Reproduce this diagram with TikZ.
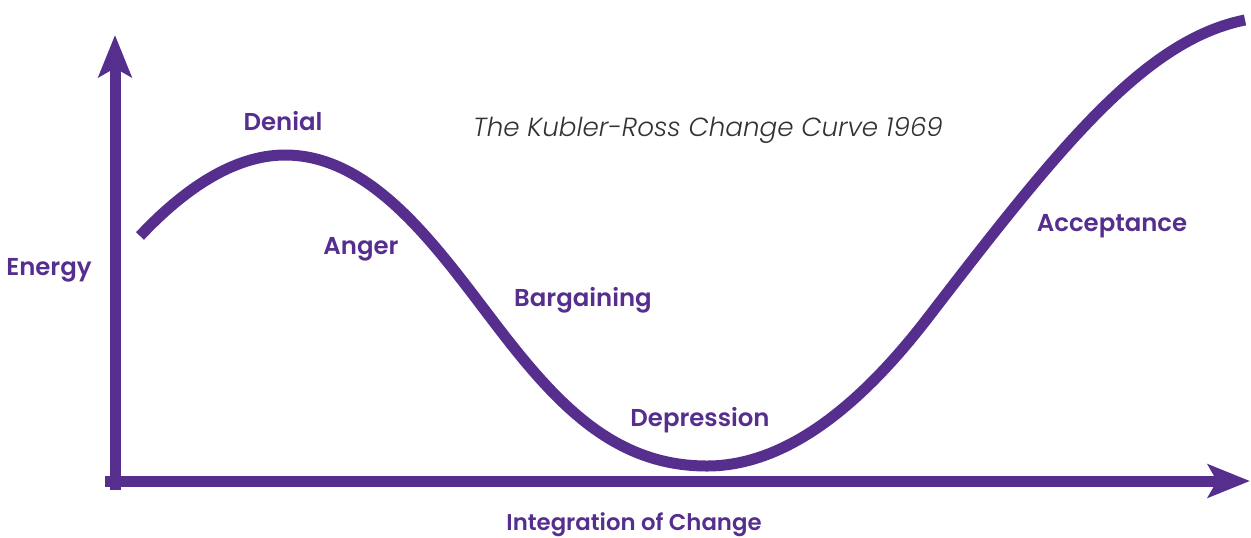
\documentclass[tikz,border=0pt]{standalone}
\usepackage{fontspec}
\setmainfont{Poppins}[BoldFont=* SemiBold, ItalicFont=* Light Italic]
\usetikzlibrary{arrows.meta}
\definecolor{kpurple}{RGB}{86,47,142}
\definecolor{kgrey}{RGB}{50,50,50}

\begin{document}
\begin{tikzpicture}[x=0.5pt, y=-0.5pt,
        stage/.style={text=kpurple, font=\bfseries\fontsize{12.2}{15}\selectfont, inner sep=0pt, anchor=base},
        axis/.style={draw=kpurple, line width=5.5pt, -{Stealth[length=21pt, width=16.5pt, inset=4.5pt]}},
        curve/.style={draw=kpurple, line width=5.5pt}]
    \useasboundingbox (0,0) rectangle (1251,537);

    % axes
    \coordinate (ybot) at (115,490);
    \coordinate (ytop) at (115,35);
    \coordinate (xleft) at (105,481);
    \coordinate (xright) at (1250,481);

    \draw[axis] (ybot) -- (ytop);
    \draw[axis] (xleft) -- (xright);

    % the curve
    \coordinate (c0) at (140,236);
    \coordinate (c1) at (285,155);
    \coordinate (c2) at (500,330);
    \coordinate (c3) at (707,466);
    \coordinate (c4) at (930,315);
    \coordinate (c5) at (1245,20);

    \draw[curve] (c0) .. controls (185,188) and (235,155) .. (c1)
        .. controls (375,155) and (440,252) .. (c2)
        .. controls (560,408) and (617,466) .. (c3)
        .. controls (797,466) and (875,387) .. (c4)
        .. controls (1060,146) and (1145,40) .. (c5);

    % labels
    \node[stage] (denial) at (283,130) {Denial};
    \node[stage] (anger) at (361,254) {Anger};
    \node[stage] (barg) at (583,306) {Bargaining};
    \node[stage] (depr) at (700,426) {Depression};
    \node[stage] (acc) at (1112,231) {Acceptance};
    \node[stage] (energy) at (49,275) {Energy};
    \node[stage, font=\bfseries\fontsize{11.4}{14}\selectfont] (integ) at (634,530) {Integration of Change};
    \node[text=kgrey, font=\itshape\fontsize{13.1}{15}\selectfont, inner sep=0pt, anchor=base]
        (title) at (708,136) {The Kubler-Ross Change Curve 1969};
\end{tikzpicture}
\end{document}
